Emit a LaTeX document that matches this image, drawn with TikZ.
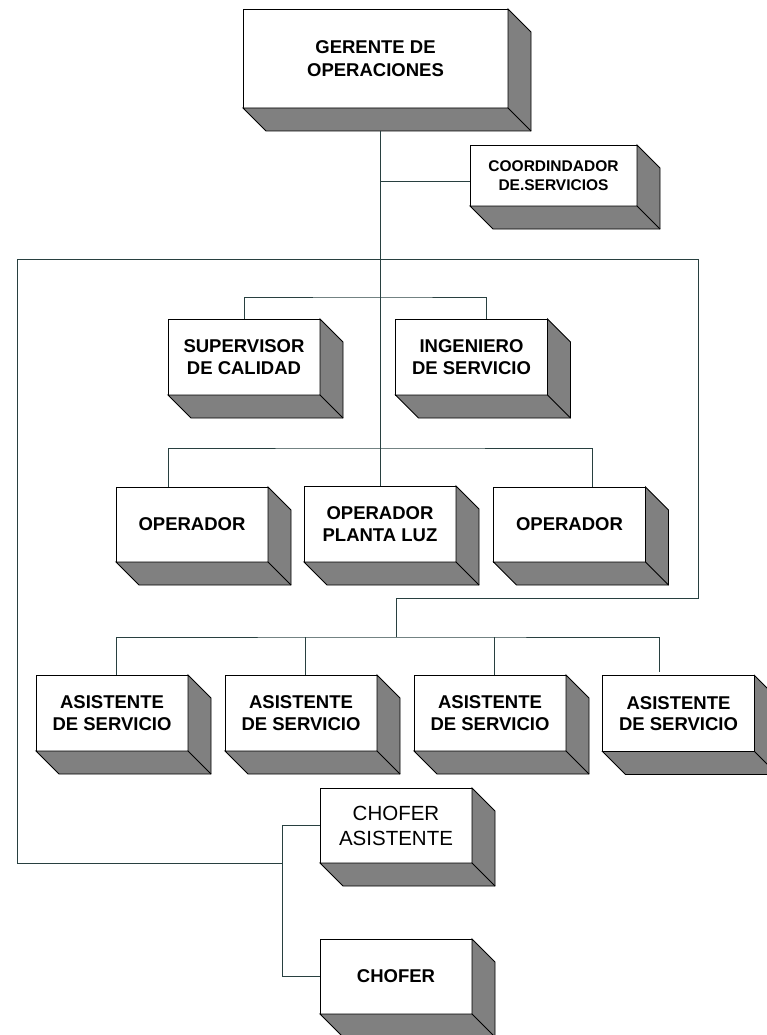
\documentclass[tikz,border=0pt]{standalone}
\usepackage{fontspec}
\setmainfont{Liberation Sans}
\definecolor{sombragris}{RGB}{128,128,128}
\definecolor{linea}{RGB}{40,64,64}
% gray right and bottom faces of a raised box
\newcommand{\relieve}[1]{%
  \filldraw[cara] (#1.north east) -- ([shift={(23,23)}]#1.north east)
    -- ([shift={(23,23)}]#1.south east) -- ([shift={(23,23)}]#1.south west)
    -- (#1.south west) -- (#1.south east) -- cycle;
  \draw[cara,fill=none] (#1.south east) -- ([shift={(23,23)}]#1.south east);
}
\begin{document}
\begin{tikzpicture}[x=1pt,y=-1pt,
  cajon/.style={draw=black,line width=0.9pt,fill=white,inner sep=0pt,outer sep=0pt,
    align=center,minimum width=152pt,minimum height=76pt,
    font=\bfseries\fontsize{18.5}{21.5}\selectfont},
  cara/.style={fill=sombragris,draw=black,line width=0.9pt,line join=miter},
  conn/.style={draw=linea,line width=1pt}]
\useasboundingbox (0,0) rectangle (767,1035);

% boxes
\node[cajon,minimum width=265pt,minimum height=99pt,
  font=\bfseries\fontsize{18.5}{23}\selectfont] (ger) at (375.5,58.5) {GERENTE DE\\OPERACIONES};
\node[cajon,minimum width=167pt,minimum height=61pt,
  font=\bfseries\fontsize{15.5}{19}\selectfont] (coord) at (553.5,175.5) {COORDINDADOR\\DE.SERVICIOS};
\node[cajon] (sup) at (244,357) {SUPERVISOR\\DE CALIDAD};
\node[cajon] (ing) at (471.5,357) {INGENIERO\\DE SERVICIO};
\node[cajon,minimum height=75pt] (op1) at (192,524.5) {OPERADOR};
\node[cajon,minimum height=76pt] (op2) at (380,524) {OPERADOR\\PLANTA LUZ};
\node[cajon,minimum height=75pt] (op3) at (569.5,524.5) {OPERADOR};
\node[cajon] (as1) at (112,713) {ASISTENTE\\DE SERVICIO};
\node[cajon] (as2) at (301,713) {ASISTENTE\\DE SERVICIO};
\node[cajon] (as3) at (490,713) {ASISTENTE\\DE SERVICIO};
\node[cajon] (as4) at (678.5,713.5) {ASISTENTE\\DE SERVICIO};
\node[cajon,minimum height=75pt,
  font=\fontsize{20.5}{25}\selectfont] (chA) at (396,825.5) {CHOFER\\ASISTENTE};
\node[cajon,minimum height=75pt] (ch) at (396,976.5) {CHOFER};

\foreach \n in {ger,coord,sup,ing,op1,op2,op3,as1,as2,as3,as4,chA,ch}{\relieve{\n}}

% connectors
\coordinate (busS) at (380,297);
\coordinate (busO) at (380,448);
\coordinate (busA) at (396,637);
\coordinate (cw) at ([yshift=-6pt]coord.west);

\draw[conn] ([yshift=-23pt]op2.north |- ger.south) -- (op2.north);
\draw[conn] (cw -| op2.north) -- (cw);
\draw[conn] (sup.north) |- (busS) -| ([xshift=14.5pt]ing.north);
\draw[conn] ([xshift=-24pt]op1.north) |- (busO) -| ([xshift=22.5pt]op3.north);

% outer loop from the chofer branch round to the assistants' bus
\coordinate (lazo) at (282,863);
\draw[conn] (lazo) -- (17,863) -- (17,259) -- (698,259) -- (698,598) -- (396,598) -- (busA);

\draw[conn] ([xshift=4pt]as1.north) |- (busA) -| ([xshift=-19.5pt,yshift=4pt]as4.north);
\draw[conn] ([xshift=4pt]as2.north) -- ([xshift=4pt]as2.north |- busA);
\draw[conn] ([xshift=4pt]as3.north) -- ([xshift=4pt]as3.north |- busA);

\draw[conn] (chA.west) -- ++(-38,0) |- (ch.west);
\end{tikzpicture}
\end{document}
